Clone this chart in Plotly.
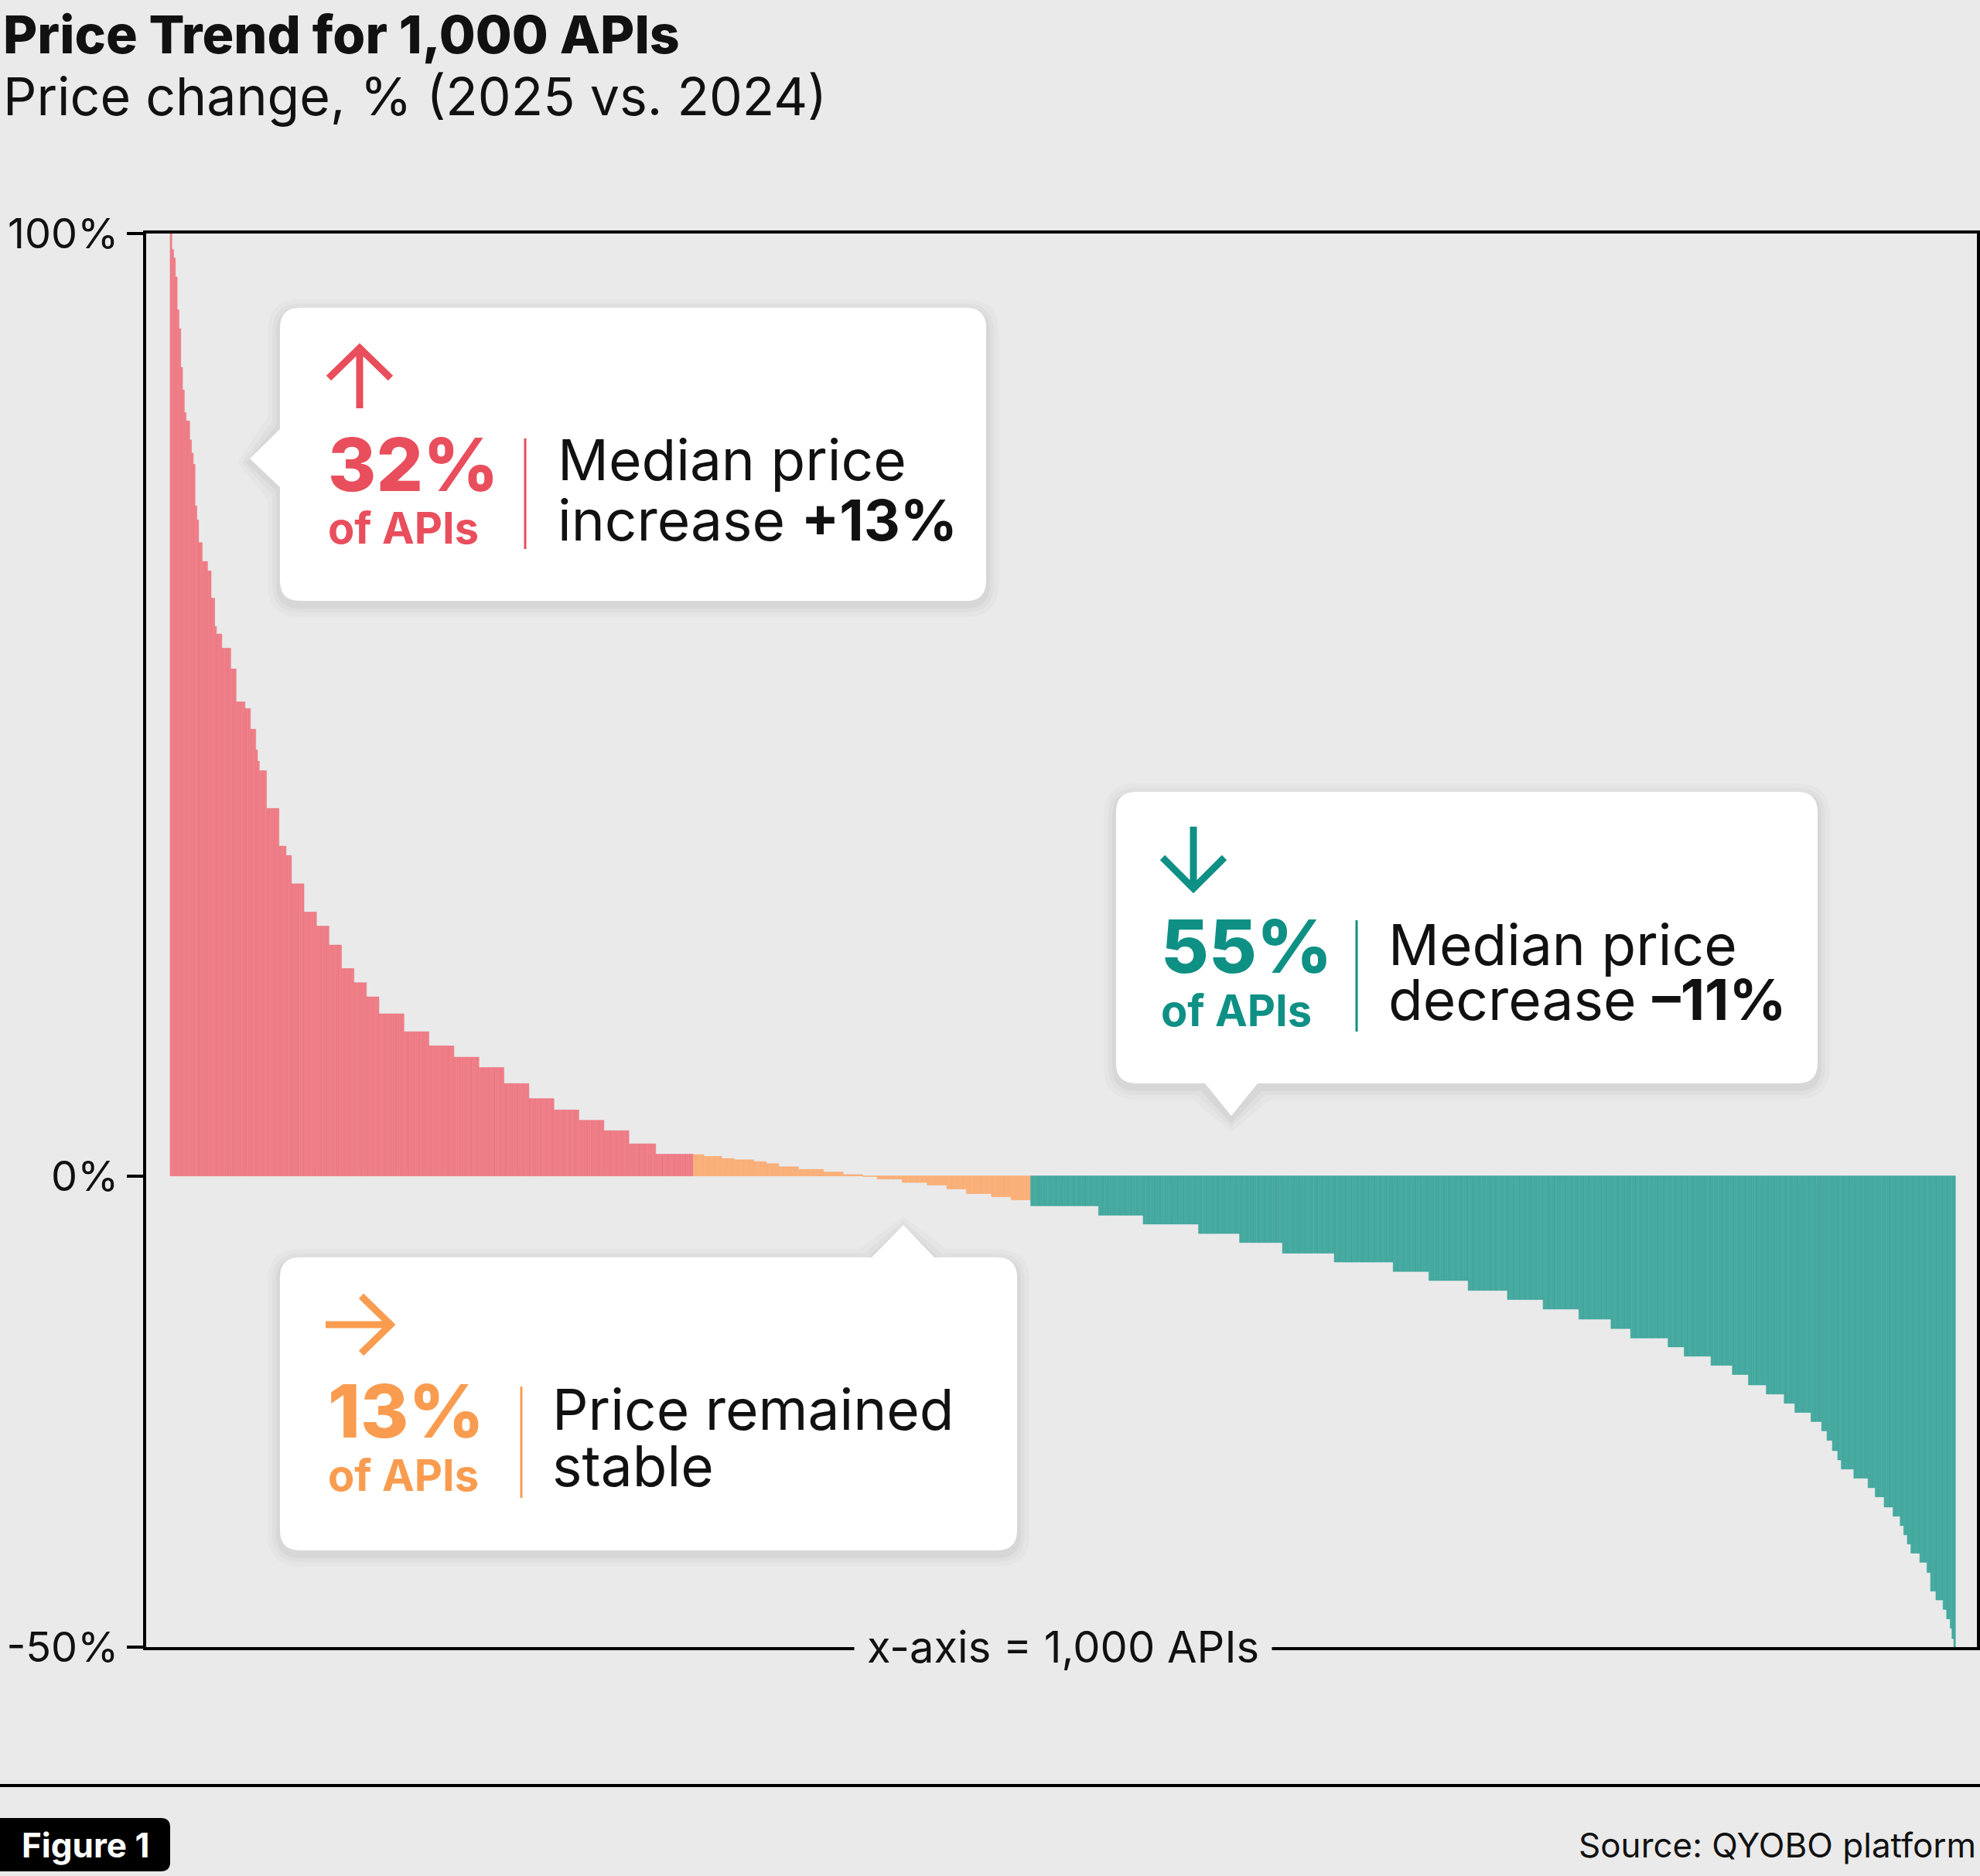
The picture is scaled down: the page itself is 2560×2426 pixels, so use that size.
import numpy as np
import plotly.graph_objects as go

red_values = [100, 98.3, 97.4, 95.4, 91.9, 89.9, 85.8, 83.4, 81, 80.1, 78.1, 76.7, 75.5, 71.1,
              69.6, 67.2, 65.2, 64.2, 61.3, 58.3, 57.5, 56, 53.8, 50.3, 49.6, 47.4, 45.2, 44,
              43, 39, 35, 34, 31, 28, 26.5, 24.5, 22, 20.5, 19,
              17.2, 15.3, 13.8, 12.6, 11.5, 9.8, 8.2, 7.0, 5.9, 4.8, 3.4, 2.3]
red_counts = [1, 1, 1, 1, 1, 1, 1, 1, 1, 2, 1, 1, 1, 1,
              1, 2, 3, 2, 2, 1, 3, 5, 3, 5, 3, 3, 1, 1,
              4, 7, 4, 3, 7, 7, 7, 7, 7, 7, 7,
              14, 14, 14, 14, 14, 14, 14, 14, 14, 14, 15, 21]

orange_values = [2.26, 2.07, 1.85, 1.71, 1.52, 1.30, 0.97, 0.69, 0.41, 0.14, -0.06,
                 -0.33, -0.69, -0.97, -1.38, -1.88, -2.21, -2.54]
orange_counts = [6, 10, 7, 11, 7, 7, 11, 14, 11, 11, 8, 14, 14, 11, 11, 14, 11, 11]

teal_values = [-3.17, -4.17, -5.11, -6.11, -7.07, -8.2, -9.14, -10.14,
               -11.1, -12.15, -13.12, -14.13, -15.2, -16.2, -17.2, -18.15, -19.13, -20.1,
               -21.07, -22.18, -23.15, -24.13, -25.1, -26.07, -27.05, -28.06, -29.16, -30.14,
               -31.11, -32.08, -33.09, -34.06, -35.14, -36.11, -37.11, -38.09, -39.06, -40.03,
               -41, -42.08, -44.06, -45, -46, -47, -48, -49.1, -50]
teal_counts = [38, 25, 31, 23, 24, 29, 33, 20,
               22, 22, 20, 20, 18, 11, 21, 9, 15, 12,
               9, 10, 10, 6, 9, 6, 3, 3, 3, 2,
               7, 8, 4, 5, 5, 4, 2, 2, 2, 5,
               4, 2, 3, 4, 2, 2, 1, 1, 1]

tick_vals = [-50, 0, 100]
tick_text = ["-50%", "0%", "100%"]

FONT = "Inter"
BG = "#eaeaea"
RED, RED_BAR, RED_EDGE = "#e94e5c", "#f0838b", "#ea6674"
ORANGE, ORANGE_BAR, ORANGE_EDGE = "#f99c50", "#fcb37d", "#f9a467"
TEAL, TEAL_BAR, TEAL_EDGE = "#0f9085", "#4bada3", "#2c9d92"

# plot area in page pixels
L, R, T, B = 189, 2556, 302, 2130


def fx(x):
    return (x - L) / (R - L)


def fy(y):
    return (B - y) / (B - T)


def to_svg(seg):
    out = []
    for s in seg:
        nums = s[1:]
        pts = [f"{fx(nums[i]):.5f},{fy(nums[i + 1]):.5f}" for i in range(0, len(nums), 2)]
        out.append(s[0] + " " + " ".join(pts))
    return " ".join(out)


def bubble(x0, y0, x1, y1, r, side, b0, b1, tx, ty):
    seg = [("M", x0 + r, y0)]
    if side == "top":
        seg += [("L", b0, y0), ("L", tx, ty), ("L", b1, y0)]
    seg += [("L", x1 - r, y0), ("Q", x1, y0, x1, y0 + r),
            ("L", x1, y1 - r), ("Q", x1, y1, x1 - r, y1)]
    if side == "bottom":
        seg += [("L", b1, y1), ("L", tx, ty), ("L", b0, y1)]
    seg += [("L", x0 + r, y1), ("Q", x0, y1, x0, y1 - r)]
    if side == "left":
        seg += [("L", x0, b1), ("L", tx, ty), ("L", x0, b0)]
    seg += [("L", x0, y0 + r), ("Q", x0, y0, x0 + r, y0)]
    return to_svg(seg) + " Z"


def add_bubble(fig, x0, y0, x1, y1, side, b0, b1, tx, ty, r=26):
    # soft shadow
    for e, a in [(16, 0.018), (10, 0.025), (5, 0.035)]:
        d = 5
        if side == "left":
            t = (tx - e, ty + d)
        elif side == "top":
            t = (tx, ty - e + d)
        else:
            t = (tx, ty + e + d)
        fig.add_shape(type="path", xref="paper", yref="paper",
                      path=bubble(x0 - e, y0 - e + d, x1 + e, y1 + e + d, r + e, side,
                                  b0 - e, b1 + e, t[0], t[1]),
                      fillcolor=f"rgba(0,0,0,{a})", line_width=0)
    fig.add_shape(type="path", xref="paper", yref="paper",
                  path=bubble(x0, y0, x1, y1, r, side, b0, b1, tx, ty),
                  fillcolor="white", line_width=0)


def add_line_path(fig, seg, color, width):
    fig.add_shape(type="path", xref="paper", yref="paper", path=to_svg(seg),
                  line=dict(color=color, width=width), fillcolor="rgba(0,0,0,0)")


def text(fig, x, y, s, size, color="#111111", anchor="left", weight=400):
    fig.add_annotation(x=fx(x), y=fy(y), xref="paper", yref="paper", text=s,
                       showarrow=False, xanchor=anchor, yanchor="middle", borderpad=0,
                       font=dict(family=FONT, size=size, color=color, weight=weight))


fig = go.Figure()

start = 0
for vals, counts, fill, edge in [(red_values, red_counts, RED_BAR, RED_EDGE),
                                 (orange_values, orange_counts, ORANGE_BAR, ORANGE_EDGE),
                                 (teal_values, teal_counts, TEAL_BAR, TEAL_EDGE)]:
    y = np.repeat(vals, counts)
    x = np.arange(start, start + len(y))
    start += len(y)
    fig.add_trace(go.Bar(x=x, y=y, marker=dict(color=fill, line=dict(color=edge, width=0.5)),
                         showlegend=False, hoverinfo="skip"))

fig.update_layout(
    width=2560, height=2426,
    margin=dict(l=L, r=2560 - R, t=T, b=2426 - B, autoexpand=False),
    paper_bgcolor=BG, plot_bgcolor=BG,
    bargap=0.05,
    font=dict(family=FONT, color="#111111"),
)
fig.update_xaxes(range=[-13.9, 1011.5], showline=True, linecolor="black", linewidth=4,
                 mirror=True, showticklabels=False, showgrid=False, zeroline=False, ticks="",
                 automargin=False)
fig.update_yaxes(range=[-50, 100], tickvals=tick_vals, ticktext=tick_text,
                 showline=True, linecolor="black", linewidth=4, mirror=True,
                 ticks="outside", ticklen=21, tickwidth=4, tickcolor="black",
                 ticklabelstandoff=0, tickfont=dict(family=FONT, size=54, color="#111111"),
                 showgrid=False, zeroline=False, automargin=False)

# titles
text(fig, 3, 44, "Price Trend for 1,000 APIs", 68, weight=800)
text(fig, 3, 124, "Price change, % (2025 vs. 2024)", 68)

# x-axis caption sitting in a gap of the bottom line
fig.add_annotation(x=fx(1374), y=0, xref="paper", yref="paper", text="x-axis = 1,000 APIs",
                   showarrow=False, xanchor="center", yanchor="middle", bgcolor=BG, borderpad=16,
                   font=dict(family=FONT, size=56, color="#111111"))

# red callout
add_bubble(fig, 362, 398, 1275, 777, "left", 555, 630, 323, 593)
add_line_path(fig, [("M", 465, 528), ("L", 465, 452), ("M", 425, 489), ("L", 465, 450), ("L", 505, 489)], RED, 9)
text(fig, 423, 600, "32%", 95, RED, weight=800)
text(fig, 423, 683, "of APIs", 56, RED, weight=700)
fig.add_shape(type="line", xref="paper", yref="paper", x0=fx(679), x1=fx(679), y0=fy(567), y1=fy(710),
              line=dict(color=RED, width=3))
text(fig, 720, 594, "Median price", 73)
text(fig, 720, 672, "increase <b>+13%</b>", 73)

# teal callout
add_bubble(fig, 1443, 1024, 2350, 1401, "bottom", 1558, 1626, 1592, 1443)
add_line_path(fig, [("M", 1543, 1069), ("L", 1543, 1146), ("M", 1503, 1109), ("L", 1543, 1149), ("L", 1583, 1109)], TEAL, 9)
text(fig, 1500, 1223, "55%", 95, TEAL, weight=800)
text(fig, 1500, 1307, "of APIs", 56, TEAL, weight=700)
fig.add_shape(type="line", xref="paper", yref="paper", x0=fx(1754), x1=fx(1754), y0=fy(1190), y1=fy(1334),
              line=dict(color=TEAL, width=3))
text(fig, 1794, 1221, "Median price", 73)
text(fig, 1794, 1292, "decrease <b>–11%</b>", 73)

# orange callout
add_bubble(fig, 362, 1626, 1315, 2005, "top", 1127, 1208, 1168, 1584)
add_line_path(fig, [("M", 421, 1713), ("L", 502, 1713), ("M", 467, 1676), ("L", 505, 1713), ("L", 467, 1750)], ORANGE, 9)
text(fig, 423, 1824, "13%", 95, ORANGE, weight=800)
text(fig, 423, 1908, "of APIs", 56, ORANGE, weight=700)
fig.add_shape(type="line", xref="paper", yref="paper", x0=fx(674), x1=fx(674), y0=fy(1793), y1=fy(1937),
              line=dict(color=ORANGE, width=3))
text(fig, 713, 1822, "Price remained", 73)
text(fig, 713, 1895, "stable", 73)

# footer
fig.add_shape(type="line", xref="paper", yref="paper", x0=fx(0), x1=fx(2560), y0=fy(2309), y1=fy(2309),
              line=dict(color="black", width=4))
fig.add_shape(type="path", xref="paper", yref="paper",
              path=to_svg([("M", 0, 2351), ("L", 208, 2351), ("Q", 220, 2351, 220, 2363),
                           ("L", 220, 2408), ("Q", 220, 2420, 208, 2420), ("L", 0, 2420)]) + " Z",
              fillcolor="black", line_width=0)
text(fig, 110, 2386, "Figure 1", 44, "white", "center", weight=700)
text(fig, 2556, 2386, "Source: QYOBO platform", 44, "#111111", "right")

fig.write_html("out.html", config={"displayModeBar": False},
               post_script="document.body.style.margin='0px';")
